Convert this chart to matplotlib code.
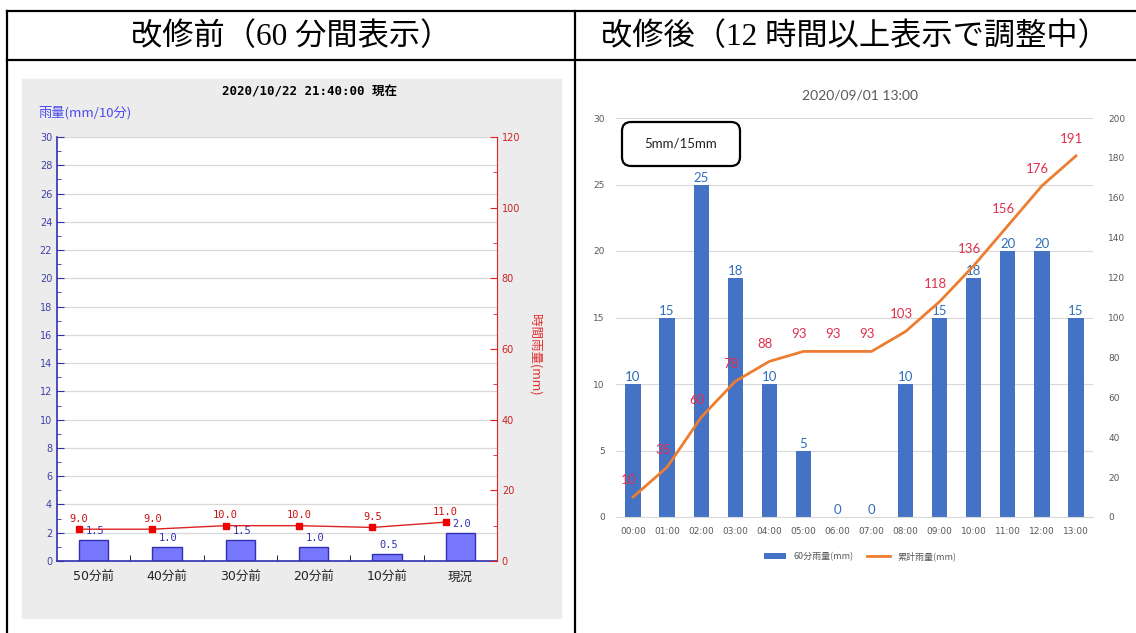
import numpy as np
import matplotlib.pyplot as plt
from matplotlib.patches import Rectangle, FancyBboxPatch
from matplotlib.lines import Line2D
from matplotlib.ticker import MultipleLocator
from matplotlib.transforms import IdentityTransform

plt.rcParams['font.family'] = ['DejaVu Sans', 'Noto Sans CJK JP']

W, H = 1136, 633

# 改修前 (left chart)
old_labels = ['50分前', '40分前', '30分前', '20分前', '10分前', '現況']
old_rain10 = [1.5, 1.0, 1.5, 1.0, 0.5, 2.0]
old_hourly = [9.0, 9.0, 10.0, 10.0, 9.5, 11.0]

# 改修後 (right chart)
new_hours = ['00:00', '01:00', '02:00', '03:00', '04:00', '05:00', '06:00',
             '07:00', '08:00', '09:00', '10:00', '11:00', '12:00', '13:00']
new_rain60 = [10, 15, 25, 18, 10, 5, 0, 0, 10, 15, 18, 20, 20, 15]
new_cumul = [10, 25, 50, 68, 78, 83, 83, 83, 93, 108, 126, 146, 166, 181]
new_cumul_text = ['10', '35', '60', '78', '88', '93', '93', '93',
                  '103', '118', '136', '156', '176', '191']


def box(l, t, r, b):
    return [l / W, 1 - b / H, (r - l) / W, (b - t) / H]


def fxy(x, y):
    return x / W, 1 - y / H


fig = plt.figure(figsize=(W / 100, H / 100), dpi=100)

# table frame
def hline(y, x0, x1):
    fig.add_artist(Line2D([x0 / W, x1 / W], [1 - y / H, 1 - y / H],
                          transform=fig.transFigure, color='black', lw=1.6))

def vline(x, y0, y1):
    fig.add_artist(Line2D([x / W, x / W], [1 - y0 / H, 1 - y1 / H],
                          transform=fig.transFigure, color='black', lw=1.6))

hline(11, 7, W)
hline(60, 7, W)
vline(7, 11, H)
vline(575, 11, H)

serif_cjk = ['Liberation Serif', 'Noto Sans CJK JP']
fig.text(*fxy(291, 37), '改修前（60 分間表示）', ha='center', va='center',
         fontsize=22.5, family=serif_cjk)
fig.text(*fxy(855, 37), '改修後（12 時間以上表示で調整中）', ha='center', va='center',
         fontsize=22.5, family=serif_cjk)

# ---------------- left chart ----------------
fig.add_artist(Rectangle(fxy(22, 618), (561 - 22) / W, (618 - 79) / H,
                         transform=fig.transFigure, color='#ececec', zorder=-5))

ax1 = fig.add_axes(box(57, 137, 497, 561))
ax1.set_facecolor('white')
x1 = np.arange(len(old_labels))
ax1.bar(x1, old_rain10, width=0.4, color='#7878ff', edgecolor='#3030b0', lw=1, zorder=2)
ax1.set_xlim(-0.5, len(old_labels) - 0.5)
ax1.set_ylim(0, 30)
ax1.yaxis.set_major_locator(MultipleLocator(2))
ax1.yaxis.set_minor_locator(MultipleLocator(1))
ax1.yaxis.grid(True, color='#d8d8d8', lw=0.9)
ax1.set_axisbelow(True)
ax1.set_xticks(x1)
ax1.set_xticklabels(old_labels, fontsize=9, color='#222222')
ax1.set_xticks(np.arange(0.5, len(old_labels) - 1, 1), minor=True)
ax1.tick_params(axis='x', which='major', length=0, pad=7)
ax1.tick_params(axis='x', which='minor', direction='in', length=4, color='black')
ax1.tick_params(axis='y', which='both', direction='in', color='#3030b0',
                labelcolor='#4040a8', labelsize=7)
ax1.tick_params(axis='y', which='major', length=5)
ax1.tick_params(axis='y', which='minor', length=3)
for s in ['top', 'right']:
    ax1.spines[s].set_visible(False)
ax1.spines['left'].set_color('#3030b0')
ax1.spines['bottom'].set_color('#3030b0')
ax1.spines['left'].set_linewidth(1.2)
ax1.spines['bottom'].set_linewidth(1.2)

for i, v in enumerate(old_rain10):
    ax1.annotate(f'{v:.1f}', (i, v), xytext=(1, 3), textcoords='offset points',
                 ha='center', va='bottom', color='#3030b0', fontsize=7.5,
                 family='DejaVu Sans Mono')

# the hourly line sits a little left of the bar centres, as in the original
ax2 = ax1.twinx()
x_line = x1 - 0.2
ax2.plot(x_line, old_hourly, color='#dd2222', lw=1, marker='s', ms=5,
         mfc='#ee0000', mec='#ee0000', zorder=3)
ax2.set_ylim(0, 120)
ax2.yaxis.set_major_locator(MultipleLocator(20))
ax2.yaxis.set_minor_locator(MultipleLocator(10))
ax2.tick_params(axis='y', which='both', direction='in', color='#dd2222',
                labelcolor='#cc2222', labelsize=7)
ax2.tick_params(axis='y', which='major', length=5)
ax2.tick_params(axis='y', which='minor', length=3)
for s in ['top', 'left', 'bottom']:
    ax2.spines[s].set_visible(False)
ax2.spines['right'].set_color('#dd2222')
for xi, v in zip(x_line, old_hourly):
    ax2.annotate(f'{v:.1f}', (xi, v), xytext=(0, 4), textcoords='offset points',
                 ha='center', va='bottom', color='#cc1111', fontsize=7.5,
                 family='DejaVu Sans Mono')

fig.text(*fxy(310, 92), '2020/10/22 21:40:00 現在', ha='center', va='center',
         fontsize=9, fontweight='bold', family=['DejaVu Sans Mono', 'Noto Sans CJK JP'])
fig.text(*fxy(38, 113), '雨量(mm/10分)', ha='left', va='center', fontsize=9.5,
         color='#4a4aee', family=['Noto Sans CJK JP'])
fig.text(*fxy(535, 355), '時間雨量(mm)', ha='center', va='center', rotation=270,
         fontsize=9, color='#e03030', family=['Noto Sans CJK JP'])

# ---------------- right chart ----------------
grey = '#595959'
ax3 = fig.add_axes(box(616, 118, 1093, 517))
x3 = np.arange(len(new_hours))
bars = ax3.bar(x3, new_rain60, width=0.45, color='#4472C4', zorder=2, label='60分雨量(mm)')
ax3.set_xlim(-0.5, len(new_hours) - 0.5)
ax3.set_ylim(0, 30)
ax3.yaxis.set_major_locator(MultipleLocator(5))
ax3.yaxis.grid(True, color='#d9d9d9', lw=0.8)
ax3.set_axisbelow(True)
ax3.set_xticks(x3)
ax3.set_xticklabels(new_hours)
ax3.tick_params(axis='both', length=0, labelsize=6.5, labelcolor=grey)
ax3.tick_params(axis='x', pad=7)
ax3.tick_params(axis='y', pad=8)
for s in ['top', 'right', 'left']:
    ax3.spines[s].set_visible(False)
ax3.spines['bottom'].set_color('#d9d9d9')
for i, v in enumerate(new_rain60):
    ax3.annotate(str(v), (i, v), xytext=(0, 0.5), textcoords='offset points',
                 ha='center', va='bottom', color='#2f6fba', fontsize=9.5,
                 family=['Lato'])

ax4 = ax3.twinx()
line, = ax4.plot(x3, new_cumul, color='#ED7D31', lw=2, label='累計雨量(mm)')
ax4.set_ylim(0, 200)
ax4.yaxis.set_major_locator(MultipleLocator(20))
ax4.tick_params(axis='y', length=0, labelsize=6.5, labelcolor=grey, pad=11)
for s in ['top', 'right', 'left', 'bottom']:
    ax4.spines[s].set_visible(False)
for i, t in enumerate(new_cumul_text):
    ax4.annotate(t, (i, new_cumul[i]), xytext=(-3, 8), textcoords='offset points',
                 ha='center', va='bottom', color='#e0304e', fontsize=9.5,
                 family=['Lato'])

fig.text(*fxy(860, 95), '2020/09/01 13:00', ha='center', va='center',
         fontsize=10, color=grey, family=['Lato'])

fig.add_artist(FancyBboxPatch((622, H - 166), 118, 44,
                              boxstyle='round,pad=0,rounding_size=9',
                              transform=IdentityTransform(),
                              fc='white', ec='black', lw=1.6))
fig.text(*fxy(681, 144), '5mm/15mm', ha='center', va='center', fontsize=9.5,
         color='#222222', family=['Lato'])

fig.legend([bars, line], ['60分雨量(mm)', '累計雨量(mm)'], loc='center',
           bbox_to_anchor=fxy(860, 556), ncol=2, frameon=False,
           prop={'family': ['Noto Sans CJK JP'], 'size': 6.5}, labelcolor=grey,
           handlelength=2.5, handleheight=0.6, columnspacing=1.5)

fig.savefig('out.png', dpi=100)
